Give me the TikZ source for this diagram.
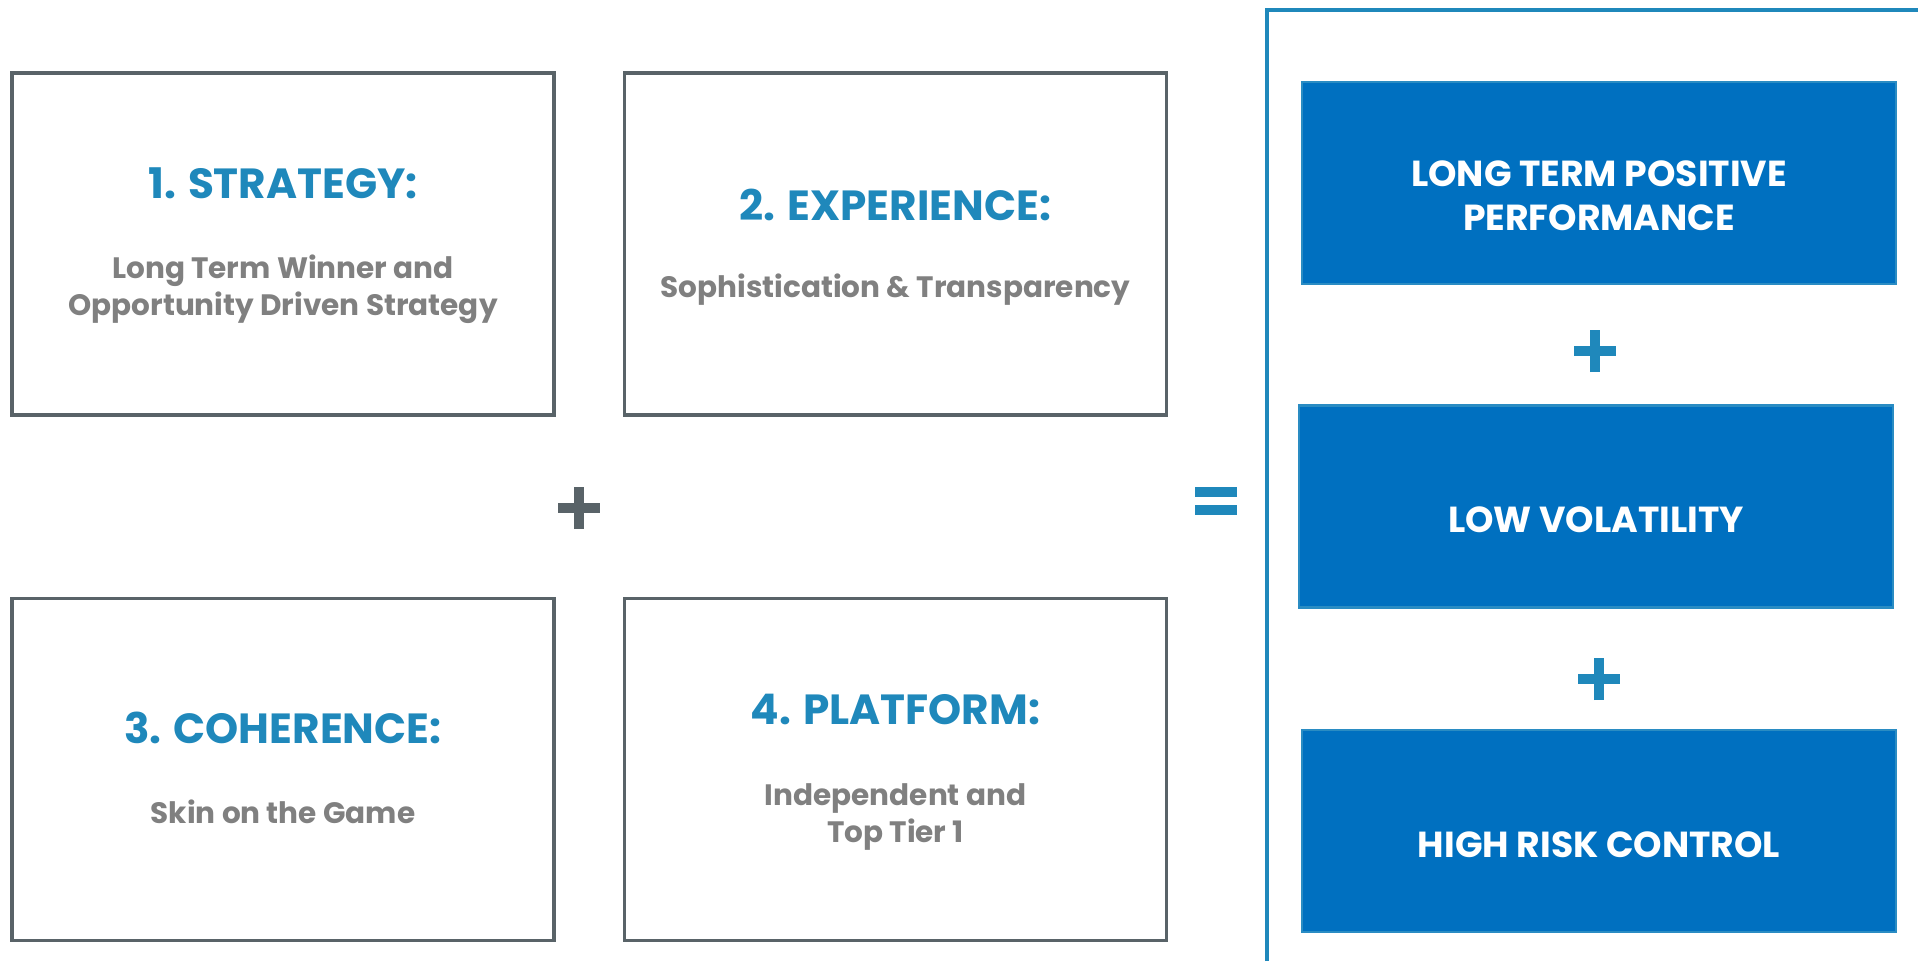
\documentclass[tikz,border=0pt]{standalone}
\usepackage{fontspec}
\setmainfont{Poppins}
\usepackage{tikz}
\usetikzlibrary{positioning}

\definecolor{boxgray}{RGB}{89,99,104}
\definecolor{headblue}{RGB}{31,136,187}
\definecolor{subgray}{RGB}{128,128,128}
\definecolor{fillblue}{RGB}{0,112,192}
\definecolor{edgeblue}{RGB}{42,140,195}

\tikzset{
    pillar/.style={draw=boxgray,line width=1.9pt,minimum width=10.84cm,minimum height=6.84cm},
    result/.style={draw=edgeblue,fill=fillblue,line width=1.6pt,minimum width=11.88cm,minimum height=4.04cm},
    headtext/.style={anchor=base,inner sep=0pt,text=headblue,font=\fontsize{24}{28}\selectfont\bfseries},
    subtext/.style={anchor=base,inner sep=0pt,align=center,text=subgray,font=\fontsize{16.8}{21}\selectfont\bfseries},
    restext/.style={anchor=base,inner sep=0pt,align=center,text=white,font=\fontsize{20.6}{25}\selectfont\bfseries},
    signbar/.style={line width=10*0.02cm}
}

\begin{document}
\begin{tikzpicture}[x=0.02cm,y=-0.02cm]
        \useasboundingbox (0,0) rectangle (1918,961);

        % the four pillars
        \node[pillar] (strat) at (283,244) {};
        \node[pillar] (exper) at (895.5,244) {};
        \node[pillar] (coher) at (283,769.5) {};
        \node[pillar] (platf) at (895.5,769.5) {};

        % (two-line texts sit on their last baseline)
        \node[headtext] (t1) at (283,198) {1. STRATEGY:};
        \node[subtext] (s1) at (283,315) {Long Term Winner and\\Opportunity Driven Strategy};
        \node[headtext] (t2) at (895.5,220) {2. EXPERIENCE:};
        \node[subtext] (s2) at (895.5,297) {Sophistication \& Transparency};
        \node[headtext] (t3) at (283,743) {3. COHERENCE:};
        \node[subtext] (s3) at (283,823) {Skin on the Game};
        \node[headtext] (t4) at (895.5,724) {4. PLATFORM:};
        \node[subtext] (s4) at (895.5,842) {Independent and\\Top Tier 1};

        % result column
        \draw[draw=headblue,line width=2pt] (1267,961) -- (1267,10) -- (1918,10);
        \node[result] (perf) at (1599,183) {};
        \node[result] (vol) at (1596,506.5) {};
        \node[result] (risk) at (1599,831) {};

        \node[restext] (r1) at (1599,230) {LONG TERM POSITIVE\\PERFORMANCE};
        \node[restext] (r2) at (1596,532) {LOW VOLATILITY};
        \node[restext] (r3) at (1599,857) {HIGH RISK CONTROL};

        % signs
        \coordinate (plusA) at (579,508);
        \coordinate (plusB) at (1595,351);
        \coordinate (plusC) at (1599,679);
        \coordinate (equal) at (1216,501);
        \draw[signbar,boxgray] ([xshift=-21*0.02cm]plusA) -- ([xshift=21*0.02cm]plusA);
        \draw[signbar,boxgray] ([yshift=-21*0.02cm]plusA) -- ([yshift=21*0.02cm]plusA);
        \foreach \p in {plusB,plusC} {
            \draw[signbar,headblue] ([xshift=-21*0.02cm]\p) -- ([xshift=21*0.02cm]\p);
            \draw[signbar,headblue] ([yshift=-21*0.02cm]\p) -- ([yshift=21*0.02cm]\p);
        }
        \draw[signbar,headblue] ([xshift=-21*0.02cm,yshift=9*0.02cm]equal) -- ([xshift=21*0.02cm,yshift=9*0.02cm]equal);
        \draw[signbar,headblue] ([xshift=-21*0.02cm,yshift=-9*0.02cm]equal) -- ([xshift=21*0.02cm,yshift=-9*0.02cm]equal);
    \end{tikzpicture}
\end{document}
